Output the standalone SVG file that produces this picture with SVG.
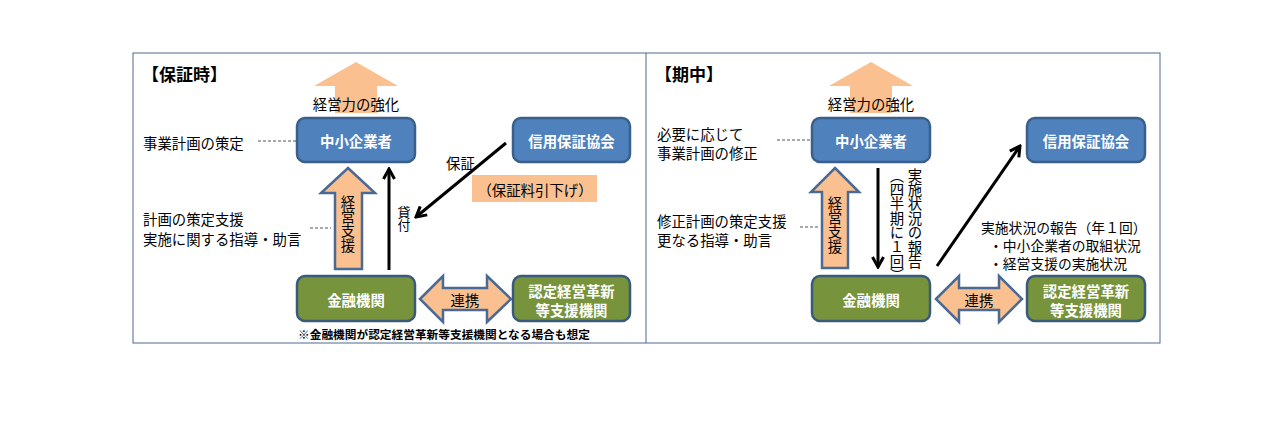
<svg xmlns="http://www.w3.org/2000/svg" width="1282" height="432" viewBox="0 0 1282 432">
<style>
text{font-family:"Noto Sans CJK JP","Noto Sans CJK SC",sans-serif;fill:#000;dominant-baseline:central}
.lbl{font-size:14.4px}
.title{font-size:17px;font-weight:bold}
.box-b{fill:#4F81BD;stroke:#3A5F8C;stroke-width:2.5}
.box-g{fill:#77933C;stroke:#3A5A7C;stroke-width:2.5}
.wt{fill:#fff;font-size:14.4px;font-weight:bold;text-anchor:middle}
.org{fill:#FAC090}
.orgs{fill:#FAC090;stroke:#4A6A94;stroke-width:2.5;stroke-linejoin:miter}
.vt{writing-mode:vertical-rl;font-size:14.4px}
.ann{font-size:13.8px}
.conn{stroke:#000;stroke-width:3;fill:none}
.dash{stroke:#555;stroke-width:1;stroke-dasharray:3 2;fill:none}
</style>
<defs>
<marker id="ah" viewBox="0 0 14 14" refX="12" refY="7" markerWidth="14" markerHeight="14" orient="auto" markerUnits="userSpaceOnUse">
<path d="M2,1.5 L12,7 L2,12.5" fill="none" stroke="#000" stroke-width="3"/>
</marker>
</defs>
<rect x="0" y="0" width="1282" height="432" fill="#fff"/>
<g id="frame">
<rect x="133" y="53" width="1027" height="290" fill="none" stroke="#4B6A8C" stroke-width="1"/>
<line x1="646" y1="53" x2="646" y2="343" stroke="#4B6A8C" stroke-width="1"/>
</g>

<!-- LEFT PANEL -->
<g id="left-title"><text class="title" x="142" y="73">【保証時】</text></g>
<g id="left-goal">
<polygon class="org" points="356,62 398,86 377,86 377,113 335,113 335,86 314,86"/>
<text class="lbl" x="356" y="103" text-anchor="middle">経営力の強化</text>
</g>
<g id="left-sme">
<rect class="box-b" x="297" y="118" width="118" height="44" rx="8"/>
<text class="wt" x="356" y="140">中小企業者</text>
</g>
<g id="left-cgc">
<rect class="box-b" x="513" y="118" width="117" height="44" rx="8"/>
<text class="wt" x="571.5" y="140">信用保証協会</text>
</g>
<g id="left-fee">
<rect class="org" x="472" y="175" width="125" height="27"/>
<text class="lbl" x="535" y="189" text-anchor="middle">（保証料引下げ）</text>
</g>
<g id="left-plan"><text class="lbl" x="143" y="142">事業計画の策定</text></g>
<g id="left-advice">
<text class="lbl" x="143" y="218">計画の策定支援</text>
<text class="lbl" x="143" y="238">実施に関する指導・助言</text>
</g>
<g id="left-support">
<polygon class="orgs" points="348,168 375,193 362,193 362,269 335,269 335,193 321,193"/>
<text class="vt" x="348" y="195">経営支援</text>
</g>
<g id="left-fin">
<rect class="box-g" x="297" y="276" width="118" height="45" rx="8"/>
<text class="wt" x="356" y="299">金融機関</text>
</g>
<g id="left-renkei">
<polygon class="orgs" points="420,299 443,276 443,288 487,288 487,276 511,299 487,322 487,310 443,310 443,322"/>
<text class="lbl" x="465" y="299" text-anchor="middle">連携</text>
</g>
<g id="left-cert">
<rect class="box-g" x="513" y="276" width="117" height="45" rx="8"/>
<text class="wt" x="571.5" y="290">認定経営革新</text>
<text class="wt" x="571.5" y="309">等支援機関</text>
</g>
<g id="left-note"><text x="298" y="333" style="font-size:11.7px;font-weight:bold">※金融機関が認定経営革新等支援機関となる場合も想定</text></g>

<!-- RIGHT PANEL -->
<g id="right-title"><text class="title" x="655" y="73">【期中】</text></g>
<g id="right-goal">
<polygon class="org" points="871,62 913,86 892,86 892,113 850,113 850,86 829,86"/>
<text class="lbl" x="871" y="103" text-anchor="middle">経営力の強化</text>
</g>
<g id="right-sme">
<rect class="box-b" x="812" y="118" width="118" height="44" rx="8"/>
<text class="wt" x="871" y="140">中小企業者</text>
</g>
<g id="right-cgc">
<rect class="box-b" x="1027" y="118" width="118" height="44" rx="8"/>
<text class="wt" x="1086" y="140">信用保証協会</text>
</g>
<g id="right-plan">
<text class="lbl" x="657" y="133">必要に応じて</text>
<text class="lbl" x="657" y="152">事業計画の修正</text>
</g>
<g id="right-advice">
<text class="lbl" x="657" y="220">修正計画の策定支援</text>
<text class="lbl" x="657" y="239">更なる指導・助言</text>
</g>
<g id="right-support">
<polygon class="orgs" points="835,168 859,192 848,192 848,268 822,268 822,192 811,192"/>
<text class="vt" x="835" y="196">経営支援</text>
</g>
<g id="right-quarter">
<text class="vt" x="915" y="168">実施状況の報告</text>
<text class="vt" x="897" y="168">（四半期に１回）</text>
</g>
<g id="right-annual">
<text class="ann" x="981" y="227">実施状況の報告（年１回）</text>
<text class="ann" x="989" y="245">・中小企業者の取組状況</text>
<text class="ann" x="989" y="263">・経営支援の実施状況</text>
</g>
<g id="right-fin">
<rect class="box-g" x="812" y="276" width="118" height="45" rx="8"/>
<text class="wt" x="871" y="299">金融機関</text>
</g>
<g id="right-renkei">
<polygon class="orgs" points="936,299 959,276 959,288 999,288 999,276 1022,299 999,322 999,310 959,310 959,322"/>
<text class="lbl" x="979" y="299" text-anchor="middle">連携</text>
</g>
<g id="right-cert">
<rect class="box-g" x="1027" y="276" width="118" height="45" rx="8"/>
<text class="wt" x="1086" y="290">認定経営革新</text>
<text class="wt" x="1086" y="309">等支援機関</text>
</g>

<g id="connectors">
<line class="dash" x1="258" y1="141" x2="296" y2="141"/>
<line class="dash" x1="310" y1="228" x2="331" y2="228"/>
<line class="dash" x1="777" y1="140" x2="811" y2="140"/>
<line class="dash" x1="800" y1="227" x2="820" y2="227"/>
<line class="conn" x1="389" y1="270" x2="389" y2="169" marker-end="url(#ah)"/>
<text x="404" y="206" style="writing-mode:vertical-rl;font-size:13px">貸付</text>
<line class="conn" x1="506" y1="143" x2="416" y2="217" marker-end="url(#ah)"/>
<text class="lbl" x="446" y="162">保証</text>
<line class="conn" x1="878" y1="168" x2="878" y2="267" marker-end="url(#ah)"/>
<line class="conn" x1="937" y1="266" x2="1020" y2="146" marker-end="url(#ah)"/>
</g>
</svg>
